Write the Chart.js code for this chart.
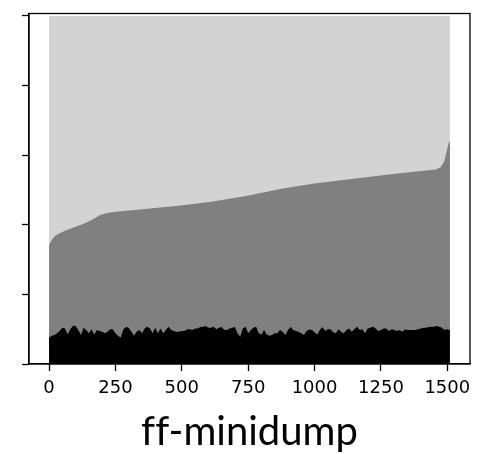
<!DOCTYPE html>
<html>
<head>
<meta charset="utf-8">
<script src="https://cdn.jsdelivr.net/npm/chart.js@4"></script>
<style>
html,body{margin:0;padding:0;background:#fff;}
#wrap{width:479px;height:454px;position:relative;}
canvas{font-variant-ligatures:none;}
</style>
</head>
<body>
<div id="wrap"><canvas id="c" width="479" height="454"></canvas></div>
<script>
// ---- data ----
const title = "ff-minidump";
const xTicks = [0, 250, 500, 750, 1000, 1250, 1500];
const yTicks = [0, 0.2, 0.4, 0.6, 0.8, 1.0];
const xMin = -75.5, xMax = 1585.5;
const yMin = 0, yMax = 1.007;

// black layer: value every 10 samples (0..1510)
const blackStep = 10;
const blackVals = [
  0.076,0.081,0.083,0.088,0.095,0.104,0.102,0.085,0.100,0.110,
  0.109,0.098,0.083,0.104,0.098,0.088,0.100,0.085,0.098,0.095,
  0.093,0.088,0.093,0.100,0.100,0.088,0.081,0.076,0.100,0.106,
  0.104,0.093,0.081,0.093,0.098,0.088,0.102,0.107,0.102,0.088,
  0.104,0.088,0.102,0.088,0.098,0.107,0.098,0.095,0.093,0.093,
  0.095,0.095,0.100,0.100,0.098,0.102,0.102,0.106,0.107,0.109,
  0.104,0.104,0.107,0.100,0.104,0.106,0.098,0.098,0.102,0.104,
  0.106,0.088,0.078,0.102,0.107,0.088,0.098,0.104,0.107,0.088,
  0.085,0.098,0.085,0.081,0.083,0.088,0.088,0.098,0.093,0.083,
  0.098,0.106,0.098,0.095,0.093,0.088,0.083,0.095,0.099,0.098,
  0.091,0.085,0.098,0.106,0.095,0.100,0.100,0.091,0.088,0.100,
  0.093,0.088,0.098,0.102,0.093,0.100,0.107,0.098,0.100,0.088,
  0.102,0.104,0.107,0.102,0.095,0.098,0.102,0.102,0.095,0.100,
  0.098,0.095,0.098,0.093,0.099,0.098,0.098,0.098,0.098,0.100,
  0.102,0.104,0.104,0.106,0.107,0.107,0.109,0.107,0.104,0.098,
  0.100,0.098
];

// top of the dark gray layer (cumulative share)
const grayX    = [0, 10, 22, 40, 60, 85, 110, 130, 148, 170, 192, 215, 236, 270, 361, 486, 611, 736, 774, 880, 1006, 1131, 1256, 1381, 1456, 1475, 1488, 1497, 1507, 1510];
const grayTop  = [0.342,0.356,0.368,0.376,0.383,0.390,0.397,0.403,0.409,0.418,0.428,0.433,0.436,0.439,0.445,0.455,0.466,0.482,0.488,0.504,0.519,0.531,0.542,0.553,0.559,0.565,0.581,0.610,0.639,0.638];

// light gray layer reaches the full share
const lightX = [0, 1510];
const lightTop = [1.0, 1.0];

const colors = { black: "#000000", gray: "#808080", light: "#d3d3d3" };

// ---- build ----
const blackData = blackVals.map((v, i) => ({ x: i * blackStep, y: v }));
const grayData = grayX.map((x, i) => ({ x: x, y: grayTop[i] }));
const lightData = lightX.map((x, i) => ({ x: x, y: lightTop[i] }));

const frame = {
  id: 'frame',
  beforeDraw(chart) {
    const ctx = chart.ctx;
    try { ctx.textRendering = 'optimizeSpeed'; } catch (e) {}
  },
  afterDraw(chart) {
    const a = chart.chartArea, ctx = chart.ctx;
    ctx.save();
    ctx.strokeStyle = '#000';
    ctx.lineWidth = 1.3;
    ctx.strokeRect(a.left, a.top, a.right - a.left, a.bottom - a.top);
    ctx.restore();
  }
};

const font = "'DejaVu Sans', sans-serif";
new Chart(document.getElementById('c'), {
  type: 'line',
  data: {
    datasets: [
      { data: blackData, order: 1, fill: 'origin', backgroundColor: colors.black, borderWidth: 0, pointRadius: 0, tension: 0 },
      { data: grayData, order: 2, fill: 'origin', backgroundColor: colors.gray, borderWidth: 0, pointRadius: 0, tension: 0 },
      { data: lightData, order: 3, fill: 'origin', backgroundColor: colors.light, borderWidth: 0, pointRadius: 0, tension: 0 }
    ]
  },
  options: {
    responsive: false,
    animation: false,
    devicePixelRatio: 1,
    layout: { padding: { top: 13.5, right: 9, left: 0, bottom: 0 } },
    plugins: { legend: { display: false }, tooltip: { enabled: false } },
    scales: {
      x: {
        type: 'linear', min: xMin, max: xMax,
        afterBuildTicks: s => { s.ticks = xTicks.map(v => ({ value: v })); },
        afterFit: s => { s.height = 90; },
        grid: { drawOnChartArea: false, drawTicks: true, tickLength: 7, tickColor: '#000', tickWidth: 1.3 },
        border: { display: true, color: '#000', width: 1.3 },
        ticks: { color: '#000', font: { family: font, size: 18 }, padding: 7, maxRotation: 0, autoSkip: false,
                 callback: v => String(v) },
        title: { display: true, text: title, color: '#000', font: { family: "Lato, 'Open Sans', sans-serif", size: 40 }, padding: { top: 0, bottom: -2 } }
      },
      y: {
        type: 'linear', min: yMin, max: yMax,
        afterBuildTicks: s => { s.ticks = yTicks.map(v => ({ value: v })); },
        afterFit: s => { s.width = 29; },
        grid: { drawOnChartArea: false, drawTicks: true, tickLength: 7, tickColor: '#000', tickWidth: 1.3 },
        border: { display: true, color: '#000', width: 1.3 },
        ticks: { display: false }
      }
    }
  },
  plugins: [frame]
});
</script>
</body>
</html>
